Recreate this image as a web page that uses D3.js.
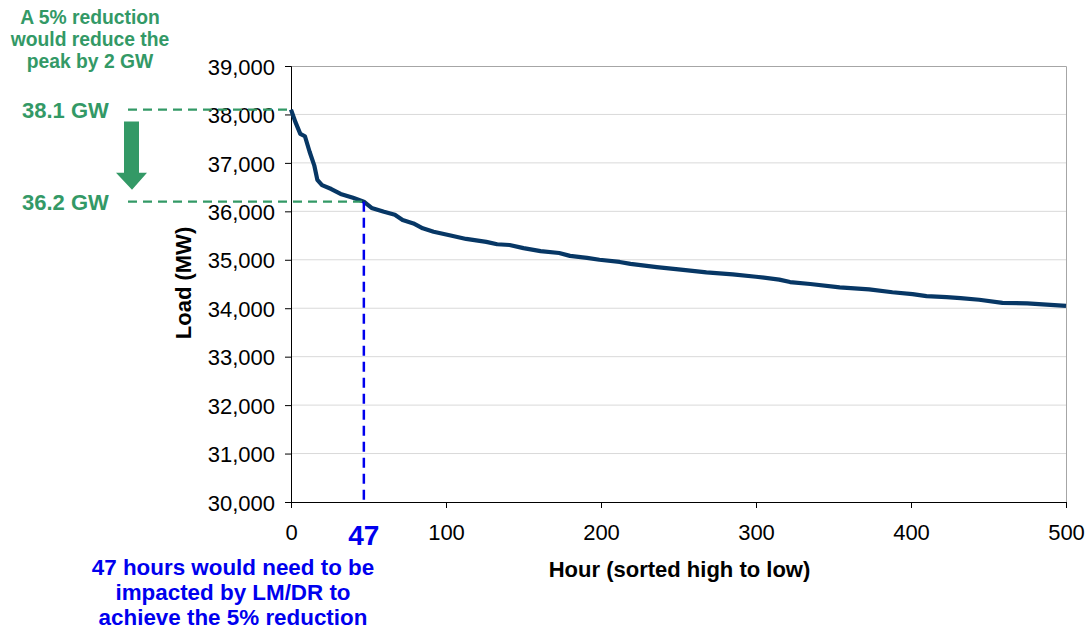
<!DOCTYPE html>
<html>
<head>
<meta charset="utf-8">
<script src="https://cdn.jsdelivr.net/npm/d3@7"></script>
<style>
  html, body { margin: 0; padding: 0; background: #fff; }
  svg { display: block; font-family: "Liberation Sans", Arial, sans-serif; }
</style>
</head>
<body>
<svg id="chart" width="1086" height="631"></svg>
<script>
// Load duration curve: top 500 hours, sorted from highest to lowest load
const hours = [0, 3, 6, 9, 12, 15, 17, 20, 26, 32, 40, 47, 52, 60, 67, 72, 79, 85, 92, 103,
  113, 126, 133, 141, 150, 161, 173, 180, 191, 199, 212, 219, 236, 253, 268, 285, 300, 315,
  322, 335, 354, 373, 388, 401, 410, 423, 432, 444, 459, 475, 500];
const loadMW = [38100, 37830, 37600, 37550, 37230, 36950, 36650, 36540, 36460, 36360, 36280,
  36200, 36070, 35990, 35930, 35820, 35750, 35650, 35580, 35500, 35430, 35370, 35320, 35305,
  35240, 35180, 35140, 35080, 35040, 35000, 34955, 34915, 34850, 34790, 34740, 34700, 34650,
  34590, 34540, 34500, 34430, 34390, 34330, 34290, 34250, 34230, 34210, 34175, 34110, 34100,
  34050];

const yTicks = [30000, 31000, 32000, 33000, 34000, 35000, 36000, 37000, 38000, 39000];
const xTicks = [0, 100, 200, 300, 400, 500];

// Peak-reduction annotation values
const peakMW = 38100;
const reducedMW = 36200;
const hoursNeeded = 47;

const green = "#339966";
const blue = "#0000ee";
const navy = "#073765";

const svg = d3.select("#chart");
const plot = { left: 291, right: 1066, top: 66, bottom: 502 };

const x = d3.scaleLinear().domain([0, 500]).range([plot.left, plot.right]);
const y = d3.scaleLinear().domain([30000, 39000]).range([plot.bottom, plot.top]);

// Horizontal gridlines
svg.append("g")
  .selectAll("line")
  .data(yTicks.filter(d => d > 30000 && d < 39000))
  .join("line")
  .attr("x1", plot.left).attr("x2", plot.right)
  .attr("y1", d => y(d)).attr("y2", d => y(d))
  .attr("stroke", "#d9d9d9").attr("stroke-width", 1);

// Plot-area border (top and right)
svg.append("path")
  .attr("d", `M${plot.left},${y(39000) + 0.5}H${plot.right + 0.5}V${plot.bottom}`)
  .attr("fill", "none").attr("stroke", "#a6a6a6").attr("stroke-width", 1);

// Axes
const yAxis = svg.append("g")
  .attr("transform", `translate(${plot.left},0)`)
  .call(d3.axisLeft(y).tickValues(yTicks).tickSizeOuter(0).tickSize(6).tickPadding(10)
    .tickFormat(d3.format(",")));
const xAxis = svg.append("g")
  .attr("transform", `translate(0,${plot.bottom})`)
  .call(d3.axisBottom(x).tickValues(xTicks).tickSizeOuter(0).tickSize(6).tickPadding(16));

[yAxis, xAxis].forEach(g => {
  g.select(".domain").attr("stroke", "#000");
  g.selectAll(".tick line").attr("stroke", "#000");
  g.selectAll("text").attr("fill", "#000").attr("font-size", 22)
    .attr("font-family", "Liberation Sans, Arial, sans-serif");
});
yAxis.selectAll("text").attr("dy", "0.37em");

// Axis titles
svg.append("text")
  .attr("x", (plot.left + plot.right) / 2 + 1).attr("y", 577)
  .attr("text-anchor", "middle").attr("font-size", 22).attr("font-weight", "bold")
  .text("Hour (sorted high to low)");
svg.append("text")
  .attr("transform", `translate(191,${283}) rotate(-90)`)
  .attr("text-anchor", "middle").attr("font-size", 22).attr("font-weight", "bold")
  .text("Load (MW)");

// Load duration curve
const line = d3.line().x((d, i) => x(hours[i])).y(d => y(d));
svg.append("path")
  .datum(loadMW)
  .attr("d", line)
  .attr("fill", "none").attr("stroke", navy).attr("stroke-width", 4.2)
  .attr("stroke-linejoin", "round");

// Green reference lines for the peak and the reduced peak
svg.append("line")
  .attr("x1", 128).attr("x2", x(0))
  .attr("y1", y(peakMW)).attr("y2", y(peakMW))
  .attr("stroke", green).attr("stroke-width", 2.2).attr("stroke-dasharray", "9,6");
svg.append("line")
  .attr("x1", 128).attr("x2", x(hoursNeeded))
  .attr("y1", y(reducedMW)).attr("y2", y(reducedMW))
  .attr("stroke", green).attr("stroke-width", 2.2).attr("stroke-dasharray", "9,6");

// Blue drop line at the number of hours needed
svg.append("line")
  .attr("x1", x(hoursNeeded)).attr("x2", x(hoursNeeded))
  .attr("y1", y(reducedMW)).attr("y2", plot.bottom)
  .attr("stroke", blue).attr("stroke-width", 2.5).attr("stroke-dasharray", "10,6");

// Green labels
svg.append("text")
  .attr("x", 22).attr("y", y(peakMW)).attr("dy", "0.36em")
  .attr("font-size", 22).attr("font-weight", "bold").attr("fill", green)
  .text(`${(peakMW / 1000).toFixed(1)} GW`);
svg.append("text")
  .attr("x", 22).attr("y", y(reducedMW)).attr("dy", "0.36em")
  .attr("font-size", 22).attr("font-weight", "bold").attr("fill", green)
  .text(`${(reducedMW / 1000).toFixed(1)} GW`);

const topNote = ["A 5% reduction", "would reduce the", "peak by 2 GW"];
svg.append("text")
  .attr("text-anchor", "middle").attr("font-size", 19.3).attr("font-weight", "bold")
  .attr("fill", green)
  .selectAll("tspan").data(topNote).join("tspan")
  .attr("x", 90).attr("y", (d, i) => 24 + i * 22)
  .text(d => d);

// Down arrow between the two levels
const aTop = y(peakMW) + 12, aTip = y(reducedMW) - 12, ax = 132;
svg.append("path")
  .attr("d", `M${ax - 8},${aTop}H${ax + 7}V${aTip - 17}H${ax + 15}L${ax},${aTip}L${ax - 16},${aTip - 17}H${ax - 8}Z`)
  .attr("fill", green);

// Hours label on the x axis
svg.append("text")
  .attr("x", x(hoursNeeded)).attr("y", 545)
  .attr("text-anchor", "middle").attr("font-size", 28).attr("font-weight", "bold")
  .attr("fill", blue)
  .text(hoursNeeded);

const bottomNote = [`${hoursNeeded} hours would need to be`, "impacted by LM/DR to", "achieve the 5% reduction"];
svg.append("text")
  .attr("text-anchor", "middle").attr("font-size", 22.4).attr("font-weight", "bold")
  .attr("fill", blue)
  .selectAll("tspan").data(bottomNote).join("tspan")
  .attr("x", 233).attr("y", (d, i) => 575 + i * 25)
  .text(d => d);
</script>
</body>
</html>
